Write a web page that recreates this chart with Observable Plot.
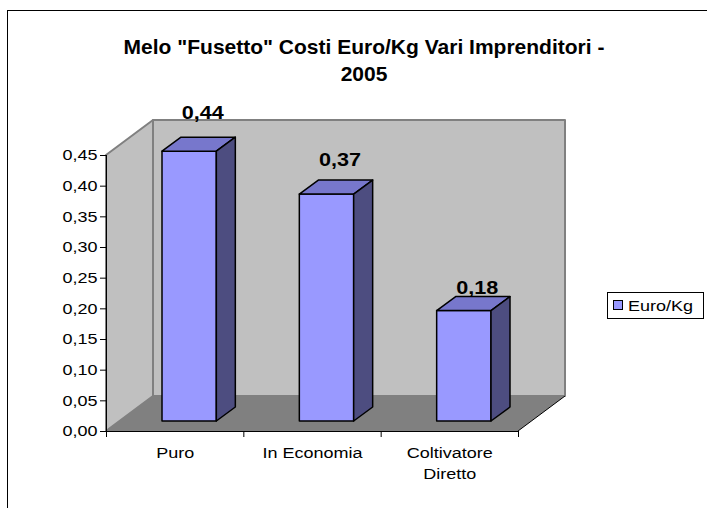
<!DOCTYPE html>
<html><head><meta charset="utf-8">
<script src="https://cdn.jsdelivr.net/npm/d3@7"></script>
<script src="https://cdn.jsdelivr.net/npm/@observablehq/plot@0.6"></script>
<style>
body{margin:0;background:#fff;font-family:"Liberation Sans",Arial,sans-serif}
#wrap{position:relative;width:707px;height:508px;overflow:hidden}
#frame{position:absolute;left:7px;top:10px;width:740px;height:540px;border:1px solid #000;box-sizing:border-box}
#title{position:absolute;left:0;top:33px;width:728px;text-align:center;font-weight:bold;font-size:21px;line-height:27px;color:#000}
#chart{position:absolute;left:0;top:0}
#legend{position:absolute;left:607px;top:292px;width:97px;height:27px;border:1px solid #000;box-sizing:border-box;background:#fff;font-size:15px;line-height:25px}
#legend .sw{position:absolute;left:5px;top:7px;width:10px;height:10px;border:1px solid #000;box-sizing:border-box;background:#9999ff}
#legend .lb{position:absolute;left:20px;top:0;transform:scaleX(1.2);transform-origin:left center;white-space:nowrap}
</style>
</head><body>
<div id="wrap">
  <div id="frame"></div>
  <div id="chart"></div>
  <div id="title"></div>
  <div id="legend"><span class="sw"></span><span class="lb"></span></div>
</div>
<script>
// ---- data ----
const titleLines = ['Melo "Fusetto" Costi Euro/Kg Vari Imprenditori -', '2005'];
const categories = ["Puro", "In Economia", "Coltivatore\nDiretto"];
const values = [0.44, 0.37, 0.18];
const yTicks = [0, 0.05, 0.10, 0.15, 0.20, 0.25, 0.30, 0.35, 0.40, 0.45];
const seriesName = "Euro/Kg";

const data = categories.map((c, i) => ({i, cat: c, v: values[i]}));
const fmt = d => d.toFixed(2).replace(".", ",");

// ---- style constants ----
const WALL = [47, -35];     // depth of walls/floor (px)
const BAR = [19, -14];      // depth of each bar (px)
const BAR_SHIFT = -10;      // bars sit inside the floor
const INSET_L = 56, INSET_R = 27;
const TEXT_SX = 1.2;        // horizontal stretch of the original's lettering
const yMax = d3.max(yTicks);

function poly(g, pts, fill, stroke, sw) {
  g.append("path")
    .attr("d", "M" + pts.map(p => p.join(",")).join("L") + "Z")
    .attr("fill", fill).attr("stroke", stroke).attr("stroke-width", sw)
    .attr("stroke-linejoin", "round");
}

// walls and floor, drawn from the scales
const walls = Plot.ruleY([0], {
  render: (index, {x, y}) => {
    const g = d3.create("svg:g");
    const [x0, x3] = x.domain().map(x);
    const y0 = y(0), yT = y(yMax);
    const [dx, dy] = WALL;
    poly(g, [[x0 + dx, yT + dy], [x3 + dx, yT + dy], [x3 + dx, y0 + dy], [x0 + dx, y0 + dy]], "#c0c0c0", "#808080", 2);
    poly(g, [[x0, y0], [x0, yT], [x0 + dx, yT + dy], [x0 + dx, y0 + dy]], "#c0c0c0", "#808080", 2);
    poly(g, [[x0, y0], [x3, y0], [x3 + dx, y0 + dy], [x0 + dx, y0 + dy]], "#808080", "none", 0);
    g.append("line").attr("x1", x3).attr("y1", y0).attr("x2", x3 + dx).attr("y2", y0 + dy)
      .attr("stroke", "#000").attr("stroke-width", 1);
    return g.node();
  }
});

// 3D bars
const bars = Plot.rect(data, {
  x1: "i", x2: d => d.i + 1, y1: 0, y2: "v",
  render: (index, {x, y}) => {
    const g = d3.create("svg:g");
    const [bx, by] = BAR;
    for (const k of index) {
      const d = data[k];
      const L = x(d.i) + INSET_L, R = x(d.i + 1) - INSET_R;
      const T = y(d.v) + BAR_SHIFT, B = y(0) + BAR_SHIFT;
      poly(g, [[L, T], [R, T], [R, B], [L, B]], "#9999ff", "#000", 1.5);
      poly(g, [[L, T], [R, T], [R + bx, T + by], [L + bx, T + by]], "#7777cc", "#000", 1.5);
      poly(g, [[R, T], [R + bx, T + by], [R + bx, B + by], [R, B]], "#4d4d80", "#000", 1.5);
    }
    return g.node();
  }
});

const plot = Plot.plot({
  width: 707,
  height: 508,
  marginLeft: 106,
  marginRight: 189,
  marginTop: 155,
  marginBottom: 77,
  x: {type: "linear", domain: [0, categories.length]},
  y: {type: "linear", domain: [0, yMax]},
  style: {fontFamily: '"Liberation Sans", Arial, sans-serif', fontSize: "15px", color: "#000", background: "transparent", overflow: "visible"},
  marks: [
    walls,
    Plot.axisY(yTicks, {tickFormat: fmt, tickSize: 6, tickPadding: 3, fontSize: 15, label: null}),
    Plot.ruleX([0], {y1: 0, y2: yMax, stroke: "#000"}),
    Plot.ruleY([0], {stroke: "#000"}),
    Plot.axisX(d3.range(categories.length + 1), {tickFormat: () => "", tickSize: 6, label: null}),
    Plot.text(data, {x: d => d.i + 0.5, y: 0, text: "cat", lineAnchor: "top", dy: 12, fontSize: 15, lineHeight: 1.4}),
    bars,
    Plot.text(data, {x: d => d.i + 0.5, y: d => d.v * 1.1 + 0.01, text: d => fmt(d.v), lineAnchor: "bottom", dx: 27.5, dy: -10, fontSize: 18, fontWeight: "bold"})
  ]
});

// stretch lettering horizontally about each text's anchor point
plot.querySelectorAll("text").forEach(t => {
  const x = +t.getAttribute("x") || 0, y = +t.getAttribute("y") || 0;
  const tr = t.getAttribute("transform") || "";
  t.setAttribute("transform", `${tr} translate(${x},${y}) scale(${TEXT_SX},1) translate(${-x},${-y})`.trim());
});

document.getElementById("chart").append(plot);
document.getElementById("title").innerHTML = titleLines.map(t => t.replace(/&/g, "&amp;").replace(/</g, "&lt;")).join("<br>");
document.querySelector("#legend .lb").textContent = seriesName;
</script>
</body></html>
